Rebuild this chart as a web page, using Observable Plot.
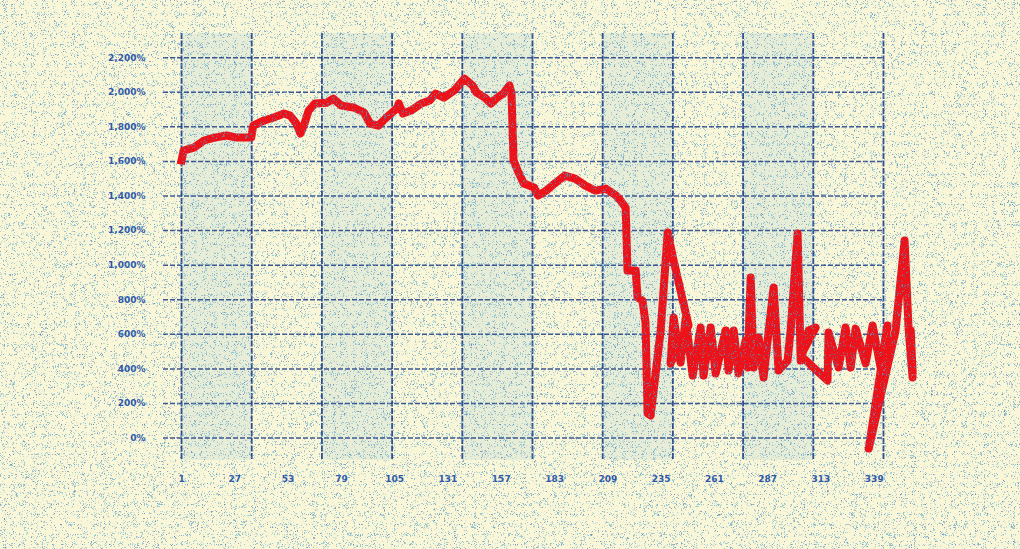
<!DOCTYPE html>
<html>
<head>
<meta charset="utf-8">
<script src="https://cdn.jsdelivr.net/npm/d3@7"></script>
<script src="https://cdn.jsdelivr.net/npm/@observablehq/plot@0.6"></script>
<style>
  html, body { margin: 0; padding: 0; background: #faf7d8; }
  #wrap { position: relative; width: 1020px; height: 549px; overflow: hidden; }
  #noise { position: absolute; left: 0; top: 0; width: 1020px; height: 549px; pointer-events: none; }
</style>
</head>
<body>
<div id="wrap">
  <div id="chart"></div>
  <svg id="noise" width="1020" height="549">
    <filter id="speck" x="0" y="0" width="100%" height="100%">
      <feTurbulence type="fractalNoise" baseFrequency="1.9" numOctaves="1" seed="11" result="t"/>
      <feColorMatrix in="t" type="matrix" values="0 0 0 0 0.10  0 0 0 0 0.40  0 0 0 0 0.62  14 0 0 0 -8.6"/>
    </filter>
    <filter id="speck2" x="0" y="0" width="100%" height="100%">
      <feTurbulence type="fractalNoise" baseFrequency="1.7" numOctaves="1" seed="3" result="t"/>
      <feColorMatrix in="t" type="matrix" values="0 0 0 0 0.05  0 0 0 0 0.15  0 0 0 0 0.45  0 14 0 0 -9.2"/>
    </filter>
    <rect width="1020" height="549" filter="url(#speck)" opacity="0.6"/>
    <rect width="1020" height="549" filter="url(#speck2)" opacity="0.6"/>
  </svg>
</div>
<script>
// x tick labels (index) and y tick values (percent)
const xTicks = [1, 27, 53, 79, 105, 131, 157, 183, 209, 235, 261, 287, 313, 339];
const yTicks = [0, 200, 400, 600, 800, 1000, 1200, 1400, 1600, 1800, 2000, 2200];
// vertical grid line positions (index units)
const gridX = [1, 35.25, 69.5, 103.75, 138, 172.25, 206.5, 240.75, 275, 309.25, 343.5];

// series (index, percent)
const seriesX = [
  1, 2, 7, 12, 17, 23, 28, 35, 36, 41, 46, 51, 54, 57, 59, 61, 63, 66, 72, 75, 79, 85, 90, 93, 97,
  101, 106, 107, 109, 113, 118, 122, 125, 129, 134, 139, 143, 145, 149, 152, 155, 158, 161, 162,
  163, 165, 168, 173, 175, 179, 183, 188, 193, 198, 203, 208, 213, 215.2, 217.7, 218.6, 222.6,
  223.5, 225.9, 227.4, 228.4, 229.9, 234.8, 238.2, 241.1, 248.4, 239.6, 241.1, 244.5, 247, 250.4,
  254.3, 255.7, 259.2, 261.6, 266.5, 267.9, 270.4, 272.8, 276.2, 277.2, 278.7, 280.1, 282.6, 285,
  287.5, 289.9, 292.3, 296.7, 298.2, 301.6, 303.1, 307, 310.4, 303.1, 316.2, 316.7, 321.6, 325,
  327.5, 329.9, 334.8, 338.2, 342.1, 345.5, 336.3, 349.4, 353.8, 355.8, 357.7, 356.8, 357.7
];
const seriesY = [
  1605, 1663, 1680, 1721, 1738, 1750, 1738, 1738, 1807, 1836, 1854, 1877, 1865, 1819, 1761, 1819,
  1894, 1935, 1940, 1963, 1923, 1912, 1883, 1819, 1807, 1854, 1906, 1935, 1877, 1894, 1935, 1952,
  1992, 1969, 2010, 2079, 2039, 1998, 1969, 1935, 1969, 1992, 2039, 1992, 1605, 1547, 1472, 1449,
  1403, 1431, 1472, 1518, 1501, 1460, 1431, 1443, 1403, 1374, 1333, 969, 969, 813, 795, 668, 142,
  130, 622, 1189, 1027, 651, 431, 697, 437, 691, 361, 639, 361, 639, 373, 622, 390, 622, 373, 564,
  408, 928, 408, 581, 350, 622, 871, 390, 448, 622, 1183, 448, 622, 639, 477, 333, 610, 408, 639,
  408, 633, 431, 651, 408, 651, -61, 622, 1142, 622, 350, 622, 390
];

const data = seriesX.map((x, i) => ({x, y: seriesY[i]}));
const bands = [];
for (let i = 0; i + 1 < gridX.length; i += 2) bands.push({x1: gridX[i], x2: gridX[i + 1]});

const gridColor = "#1b3a86";
const textColor = "#2d55a8";

const chart = Plot.plot({
  width: 1020,
  height: 549,
  marginLeft: 163,
  marginRight: 136,
  marginTop: 33,
  marginBottom: 89,
  style: {background: "transparent", fontFamily: "DejaVu Sans", fontSize: "9px", fontWeight: "bold", color: textColor},
  x: {domain: [-7.8, 344]},
  y: {domain: [-130, 2340]},
  marks: [
    Plot.rect(bands, {x1: "x1", x2: "x2", fill: "#9cc6d4", fillOpacity: 0.2}),
    Plot.ruleX(gridX, {stroke: gridColor, strokeWidth: 1.8, strokeOpacity: 0.9, strokeDasharray: "6,1.5"}),
    Plot.ruleY(yTicks, {stroke: gridColor, strokeWidth: 1.5, strokeOpacity: 0.85, strokeDasharray: "5,2"}),
    Plot.axisX({ticks: xTicks, tickSize: 0, tickPadding: 15, tickFormat: d => String(d), label: null, fill: textColor}),
    Plot.axisY({ticks: yTicks, tickSize: 0, tickPadding: 18, tickFormat: d => d3.format(",")(d) + "%", label: null, fill: textColor}),
    Plot.line(data, {x: "x", y: "y", stroke: "#ee1218", strokeWidth: 8, strokeLinejoin: "round", strokeLinecap: "square"})
  ]
});
document.getElementById("chart").appendChild(chart);
</script>
</body>
</html>
